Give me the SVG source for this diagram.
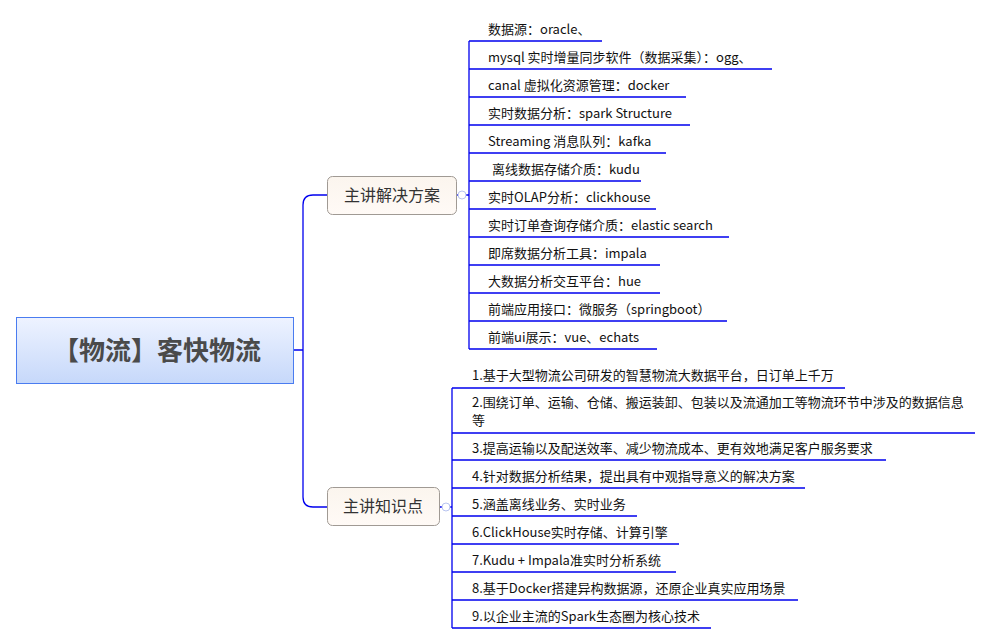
<svg xmlns="http://www.w3.org/2000/svg" width="991" height="644" viewBox="0 0 991 644">
<defs>
<linearGradient id="gc" x1="0" y1="0" x2="0" y2="1"><stop offset="0" stop-color="#eef3ff"/><stop offset="1" stop-color="#c6d8fa"/></linearGradient>
<linearGradient id="gb" x1="0" y1="0" x2="0" y2="1"><stop offset="0" stop-color="#fbf5ee"/><stop offset="1" stop-color="#fffaf6"/></linearGradient>
</defs>
<style>
.c{fill:none;stroke:#0000ee;stroke-width:1.3}
.t{font-family:"Noto Sans CJK SC","Liberation Sans",sans-serif;font-size:13px;fill:#111}
.b{font-family:"Noto Sans CJK SC",sans-serif;font-size:16px;fill:#333}
.k{fill:#fff;stroke:#b8c4f0;stroke-width:1}
</style>
<rect width="991" height="644" fill="#fff"/>
<g id="connectors">
<path class="c" d="M293,350H303M327,195H313Q303,195 303,205V497Q303,507 313,507H327"/>
<path class="c" d="M457,195H469M469,41V349"/>
<path class="c" d="M469,41H602M469,69H772M469,97H686M469,125H690M469,153H666M469,181H641M469,209H656M469,237H729M469,265H660M469,293H660M469,321H727M469,349H657"/>
<path class="c" d="M440,507H452M452,388V628"/>
<path class="c" d="M452,388H845M452,433H975M452,460H886M452,488H805M452,516H637M452,544H679M452,572H676M452,600H798M452,628H711"/>
</g>
<g id="central">
<rect x="16.5" y="317.5" width="277" height="66" fill="url(#gc)" stroke="#4a7cf0"/>
<text x="157" y="360" text-anchor="middle" style="font-family:'Noto Sans CJK SC',sans-serif;font-size:26px;font-weight:bold;fill:#4a4a4a">【物流】客快物流</text>
</g>
<g id="branch1">
<rect x="327.5" y="176.5" width="129" height="38" rx="5" fill="url(#gb)" stroke="#a09a94"/>
<text class="b" x="392" y="201" text-anchor="middle">主讲解决方案</text>
<circle class="k" cx="462" cy="195" r="4"/>
</g>
<g id="branch2">
<rect x="327.5" y="487.5" width="112" height="38" rx="5" fill="url(#gb)" stroke="#a09a94"/>
<text class="b" x="383" y="512" text-anchor="middle">主讲知识点</text>
<circle class="k" cx="446" cy="507" r="4"/>
</g>
<g id="items1">
<text class="t" x="488" y="34">数据源：oracle、</text>
<text class="t" x="488" y="62">mysql 实时增量同步软件（数据采集）：ogg、</text>
<text class="t" x="488" y="90">canal 虚拟化资源管理：docker</text>
<text class="t" x="488" y="118">实时数据分析：spark Structure</text>
<text class="t" x="488" y="146">Streaming 消息队列：kafka</text>
<text class="t" x="492" y="174">离线数据存储介质：kudu</text>
<text class="t" x="488" y="202">实时OLAP分析：clickhouse</text>
<text class="t" x="488" y="230">实时订单查询存储介质：elastic search</text>
<text class="t" x="488" y="258">即席数据分析工具：impala</text>
<text class="t" x="488" y="286">大数据分析交互平台：hue</text>
<text class="t" x="488" y="314">前端应用接口：微服务（springboot）</text>
<text class="t" x="488" y="342">前端ui展示：vue、echats</text>
</g>
<g id="items2">
<text class="t" x="472" y="380">1.基于大型物流公司研发的智慧物流大数据平台，日订单上千万</text>
<text class="t" x="472" y="407">2.围绕订单、运输、仓储、搬运装卸、包装以及流通加工等物流环节中涉及的数据信息</text>
<text class="t" x="472" y="425">等</text>
<text class="t" x="472" y="453">3.提高运输以及配送效率、减少物流成本、更有效地满足客户服务要求</text>
<text class="t" x="472" y="481">4.针对数据分析结果，提出具有中观指导意义的解决方案</text>
<text class="t" x="472" y="509">5.涵盖离线业务、实时业务</text>
<text class="t" x="472" y="537">6.ClickHouse实时存储、计算引擎</text>
<text class="t" x="472" y="565">7.Kudu + Impala准实时分析系统</text>
<text class="t" x="472" y="593">8.基于Docker搭建异构数据源，还原企业真实应用场景</text>
<text class="t" x="472" y="621">9.以企业主流的Spark生态圈为核心技术</text>
</g>
</svg>
